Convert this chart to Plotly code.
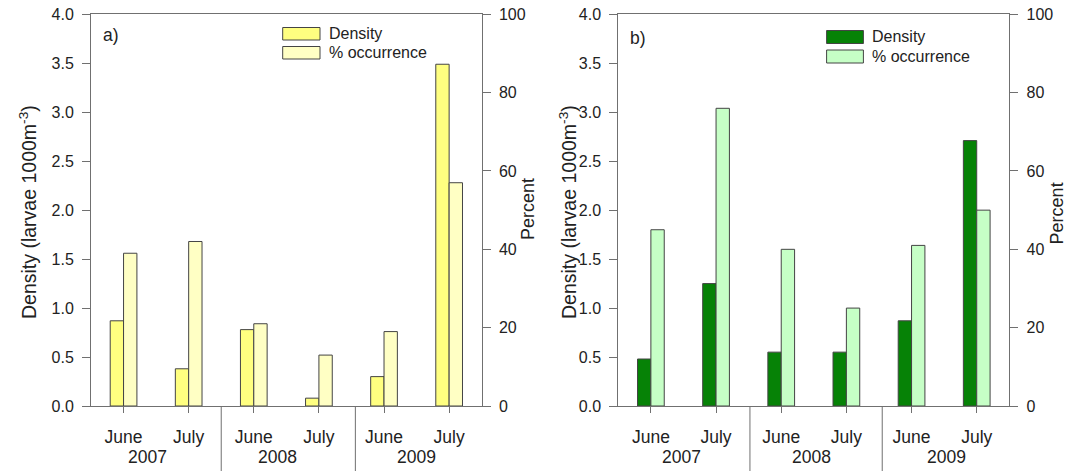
import plotly.graph_objects as go

# Sampling months and years
months = ["June", "July", "June", "July", "June", "July"]
years = ["2007", "2008", "2009"]

# Panel a) larval density (larvae 1000 m^-3) and percent occurrence
density_a = [0.87, 0.38, 0.78, 0.08, 0.30, 3.49]
occurrence_a = [39, 42, 21, 13, 19, 57]

# Panel b) larval density (larvae 1000 m^-3) and percent occurrence
density_b = [0.48, 1.25, 0.55, 0.55, 0.87, 2.71]
occurrence_b = [45, 76, 40, 25, 41, 50]

W, H = 1070, 471
FONT = "Liberation Sans, Arial, sans-serif"
TXT = "#222222"
AXC = "#707070"
EDGE = "#444444"
BW = 0.205

pos = list(range(len(months)))


def px(x):
    return x / W


def py(y):
    return 1 - y / H


panels = [
    dict(dens=density_a, occ=occurrence_a, c1="#FFFF80", c2="#FFFFC4",
         dom=[px(91), px(481.7)], lab="a)", labx=101, laby=35,
         leg_x=(282.7, 320), leg_y1=(27.5, 40), leg_y2=(46.5, 59), leg_tx=327,
         ytx=28, yty=212, ptx=527.6, pty=209.5,
         yearx=[0.37, 2.36, 4.5], sep=[1.5, 3.56]),
    dict(dens=density_b, occ=occurrence_b, c1="#068206", c2="#C6FFC6",
         dom=[px(618.3), px(1009.3)], lab="b)", labx=628, laby=38,
         leg_x=(826.6, 863.4), leg_y1=(30.5, 43.5), leg_y2=(50, 63), leg_tx=870,
         ytx=568, yty=212, ptx=1056.6, pty=213.8,
         yearx=[0.47, 2.46, 4.53], sep=[1.52, 3.55]),
]

fig = go.Figure()
shapes, annotations = [], []
ydom = [py(406), py(14.3)]

for i, p in enumerate(panels):
    xa = "x" if i == 0 else "x2"
    ya_l = "y" if i == 0 else "y3"
    ya_r = "y2" if i == 0 else "y4"

    fig.add_trace(go.Bar(x=pos, y=p["dens"], width=BW, offset=-BW,
                         marker=dict(color=p["c1"], line=dict(color=EDGE, width=1)),
                         xaxis=xa, yaxis=ya_l, showlegend=False, name="Density"))
    fig.add_trace(go.Bar(x=pos, y=p["occ"], width=BW, offset=0,
                         marker=dict(color=p["c2"], line=dict(color=EDGE, width=1)),
                         xaxis=xa, yaxis=ya_r, showlegend=False, name="% occurrence"))

    # year separators below the axis
    for s in p["sep"]:
        shapes.append(dict(type="line", xref=xa, yref="paper", x0=s, x1=s,
                           y0=py(406), y1=0, line=dict(color=AXC, width=1)))
    # year labels
    for yx, yr in zip(p["yearx"], years):
        annotations.append(dict(x=yx, y=py(457), xref=xa, yref="paper", text=yr,
                                showarrow=False, xanchor="center", yanchor="middle",
                                font=dict(size=17.5, color=TXT, family=FONT)))
    # legend swatches
    for (y0, y1), col, name in [(p["leg_y1"], p["c1"], "Density"),
                                (p["leg_y2"], p["c2"], "% occurrence")]:
        shapes.append(dict(type="rect", xref="paper", yref="paper",
                           x0=px(p["leg_x"][0]), x1=px(p["leg_x"][1]),
                           y0=py(y1), y1=py(y0), fillcolor=col,
                           line=dict(color=EDGE, width=1)))
        annotations.append(dict(x=px(p["leg_tx"]), y=py((y0 + y1) / 2),
                                xref="paper", yref="paper", text=name,
                                showarrow=False, xanchor="left", yanchor="middle",
                                font=dict(size=16, color=TXT, family=FONT)))
    # panel label
    annotations.append(dict(x=px(p["labx"]), y=py(p["laby"]), xref="paper", yref="paper",
                            text=p["lab"], showarrow=False, xanchor="left",
                            yanchor="middle", font=dict(size=17.5, color=TXT, family=FONT)))
    # axis titles
    annotations.append(dict(x=px(p["ytx"]), y=py(p["yty"]), xref="paper", yref="paper",
                            text="Density (larvae 1000m<sup>-3</sup>)", textangle=-90,
                            showarrow=False, xanchor="center", yanchor="middle",
                            font=dict(size=19.5, color=TXT, family=FONT)))
    annotations.append(dict(x=px(p["ptx"]), y=py(p["pty"]), xref="paper", yref="paper",
                            text="Percent", textangle=-90,
                            showarrow=False, xanchor="center", yanchor="middle",
                            font=dict(size=18, color=TXT, family=FONT)))

xcommon = dict(range=[-0.5, 5.5], tickvals=pos, ticktext=months, ticks="outside",
               ticklen=6, tickcolor=AXC, showline=True, linecolor=AXC, linewidth=1,
               mirror=True, showgrid=False, zeroline=False, ticklabelstandoff=9,
               automargin=False,
               tickfont=dict(size=17.5, color=TXT, family=FONT), fixedrange=True)
ycommon_l = dict(range=[0, 4], dtick=0.5, tickformat=".1f", ticks="outside", ticklen=8,
                 tickcolor=AXC, showline=True, linecolor=AXC, linewidth=1,
                 showgrid=False, zeroline=False, ticklabelstandoff=5, automargin=False,
                 tickfont=dict(size=16, color=TXT, family=FONT), domain=ydom)
ycommon_r = dict(range=[0, 100], dtick=20, ticks="outside", ticklen=8,
                 tickcolor=AXC, showline=True, linecolor=AXC, linewidth=1,
                 showgrid=False, zeroline=False, side="right", ticklabelstandoff=5,
                 automargin=False,
                 tickfont=dict(size=16, color=TXT, family=FONT))

fig.update_layout(
    width=W, height=H,
    margin=dict(l=0, r=0, t=0, b=0, autoexpand=False),
    paper_bgcolor="white", plot_bgcolor="white",
    barmode="overlay",
    font=dict(family=FONT, color=TXT),
    xaxis=dict(xcommon, domain=panels[0]["dom"], anchor="y"),
    xaxis2=dict(xcommon, domain=panels[1]["dom"], anchor="y3"),
    yaxis=dict(ycommon_l, anchor="x"),
    yaxis2=dict(ycommon_r, anchor="x", overlaying="y"),
    yaxis3=dict(ycommon_l, anchor="x2"),
    yaxis4=dict(ycommon_r, anchor="x2", overlaying="y3"),
    shapes=shapes,
    annotations=annotations,
    showlegend=False,
)

fig.write_html("out.html")
